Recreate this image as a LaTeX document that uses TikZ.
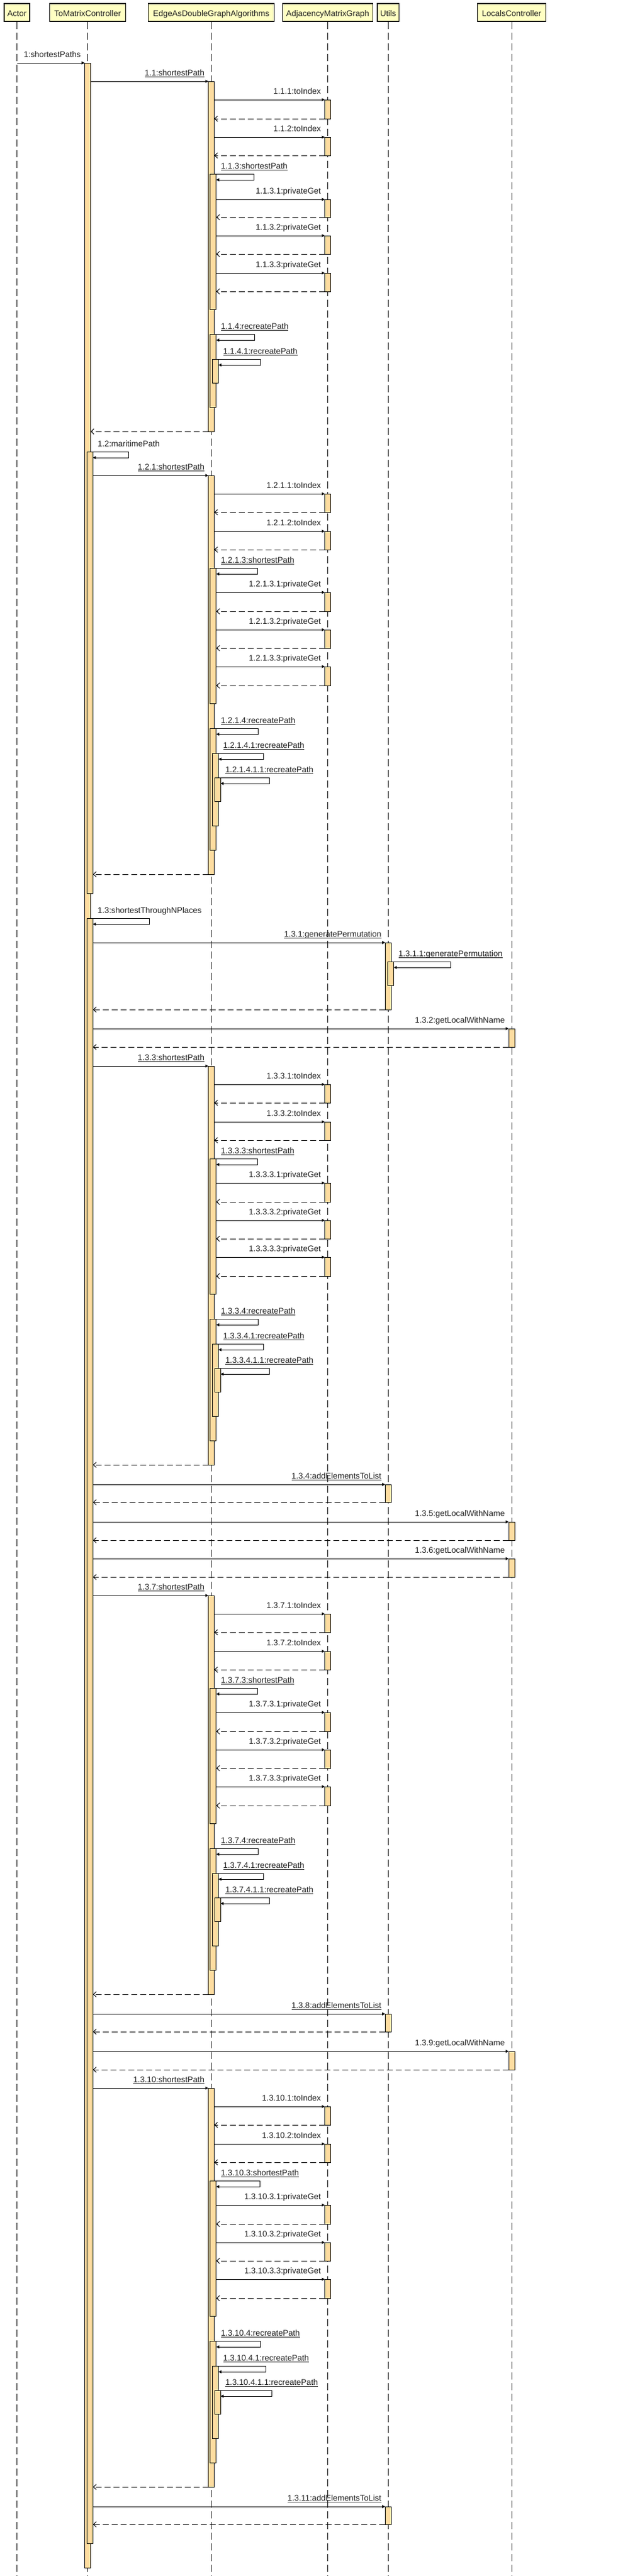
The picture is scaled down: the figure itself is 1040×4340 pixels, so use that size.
\documentclass[tikz,border=0pt]{standalone}
\usepackage{fontspec}
\setmainfont{Liberation Sans}
\usetikzlibrary{arrows.meta,calc}
\definecolor{headfill}{RGB}{255,255,194}
\definecolor{actfill}{RGB}{253,220,160}
\definecolor{txt}{RGB}{30,30,30}

% activation box: name, x centre, y top, y bottom
\newcommand\seqact[4]{\pgfmathsetmacro\seqh{(#4)-(#3)}\node[act, minimum height=\seqh pt] (#1) at (#2,#3) {};}
% call: source act, target act, label name, text, underline, return
\newcommand\seqmsg[6]{%
  \draw[call] (#1.east |- #2.north west) -- (#2.north west);
  \node[lbl, anchor=base east] (#3) at ($(#2.north west)+(-6.5,-10)$) {#4};
  \ifnum#5=1 \draw[uline] ($(#3.base west)+(0,2)$) -- ($(#3.base east)+(0,2)$);\fi
  \ifnum#6=1 \draw[ret] (#2.south west) -- (#1.east |- #2.south west);\fi}
% self call: new act, label name, text, underline
\newcommand\seqself[4]{%
  \node[lbl, anchor=base west] (#2) at ($(#1.north east)+(8,-9)$) {#3};
  \ifnum#4=1 \draw[uline] ($(#2.base west)+(0,2)$) -- ($(#2.base east)+(0,2)$);\fi
  \draw[call] (#1.north east) -| ($(#2.base |- #1.north east)+(0,10)$) -- ($(#1.north east)+(0,10)$);}
% shortestPath block: base y, prefix, key, source act
\newcommand\spblock[4]{%
  \seqact{#3e1}{355.5}{#1}{#1+672}
  \seqmsg{#4}{#3e1}{#3m0}{#2:shortestPath}{1}{1}
  \seqact{#3a1}{551.5}{#1+31}{#1+62}
  \seqmsg{#3e1}{#3a1}{#3m1}{#2.1:toIndex}{0}{1}
  \seqact{#3a2}{551.5}{#1+94}{#1+125}
  \seqmsg{#3e1}{#3a2}{#3m2}{#2.2:toIndex}{0}{1}
  \seqact{#3e2}{358.9}{#1+156}{#1+384}
  \seqself{#3e2}{#3m3}{#2.3:shortestPath}{1}
  \seqact{#3a3}{551.5}{#1+197}{#1+229}
  \seqmsg{#3e2}{#3a3}{#3m31}{#2.3.1:privateGet}{0}{1}
  \seqact{#3a4}{551.5}{#1+260}{#1+291}
  \seqmsg{#3e2}{#3a4}{#3m32}{#2.3.2:privateGet}{0}{1}
  \seqact{#3a5}{551.5}{#1+322}{#1+354}
  \seqmsg{#3e2}{#3a5}{#3m33}{#2.3.3:privateGet}{0}{1}
  \seqact{#3e3}{358.9}{#1+426}{#1+631}
  \seqself{#3e3}{#3m4}{#2.4:recreatePath}{1}
  \seqact{#3e4}{362.6}{#1+468}{#1+590}
  \seqself{#3e4}{#3m41}{#2.4.1:recreatePath}{1}
  \seqact{#3e5}{366.3}{#1+509}{#1+549}
  \seqself{#3e5}{#3m411}{#2.4.1.1:recreatePath}{1}}

\begin{document}
\begin{tikzpicture}[x=1pt, y=-1pt,
  font=\fontsize{13.8pt}{16pt}\selectfont,
  head/.style={draw=black, line width=1.2pt, fill=headfill, text=txt, minimum height=30pt, inner sep=0pt, text height=12pt, text depth=0pt},
  act/.style={draw=black, line width=0.9pt, fill=actfill, minimum width=10pt, inner sep=0pt, outer sep=0pt, anchor=north},
  lbl/.style={inner sep=0pt, outer sep=0pt, text=txt},
  uline/.style={draw=txt, line width=0.9pt},
  call/.style={line width=1pt, -{Triangle[length=5pt,width=5pt]}},
  ret/.style={line width=1pt, dash pattern=on 10pt off 5pt, -{Straight Barb[length=5pt,width=9pt]}},
  life/.style={line width=1pt, dash pattern=on 12pt off 6pt}]

\useasboundingbox (0,0) rectangle (1040,4340);
\fill[white] (0,0) rectangle (1040,4340);
\coordinate (bottom) at (0,4340);

% headers
\node[head, minimum width=43pt] (actor) at (28.5,21) {Actor};
\node[head, minimum width=127.7pt] (tmc) at (147.4,21) {ToMatrixController};
\node[head, minimum width=212pt] (ead) at (355.5,21) {EdgeAsDoubleGraphAlgorithms};
\node[head, minimum width=152.5pt] (amg) at (551.5,21) {AdjacencyMatrixGraph};
\node[head, minimum width=36.5pt] (utl) at (653.2,21) {Utils};
\node[head, minimum width=114.5pt] (lcc) at (861,21) {LocalsController};

% lifelines
\foreach \n in {actor,tmc,ead,amg,utl,lcc} \draw[life] (\n.south) -- (\n.south |- bottom);

% 1
\seqact{t1}{147.4}{106}{4326}
\draw[call] (actor.south |- t1.north west) -- (t1.north west);
\node[lbl, anchor=base east] (m1) at ($(t1.north west)+(-6.5,-10)$) {1:shortestPaths};

% 1.1
\seqact{be1}{355.5}{137}{727}
\seqmsg{t1}{be1}{bm0}{1.1:shortestPath}{1}{1}
\seqact{ba1}{551.5}{168}{200}
\seqmsg{be1}{ba1}{bm1}{1.1.1:toIndex}{0}{1}
\seqact{ba2}{551.5}{231}{262}
\seqmsg{be1}{ba2}{bm2}{1.1.2:toIndex}{0}{1}
\seqact{be2}{358.9}{293}{521}
\seqself{be2}{bm3}{1.1.3:shortestPath}{1}
\seqact{ba3}{551.5}{336}{366}
\seqmsg{be2}{ba3}{bm31}{1.1.3.1:privateGet}{0}{1}
\seqact{ba4}{551.5}{397}{428}
\seqmsg{be2}{ba4}{bm32}{1.1.3.2:privateGet}{0}{1}
\seqact{ba5}{551.5}{460}{491}
\seqmsg{be2}{ba5}{bm33}{1.1.3.3:privateGet}{0}{1}
\seqact{be3}{358.9}{563}{686}
\seqself{be3}{bm4}{1.1.4:recreatePath}{1}
\seqact{be4}{362.6}{605}{645}
\seqself{be4}{bm41}{1.1.4.1:recreatePath}{1}

% 1.2
\seqact{t2}{151.4}{761}{1505}
\seqself{t2}{m12}{1.2:maritimePath}{0}
\spblock{801}{1.2.1}{c}{t2}

% 1.3
\seqact{t3}{151.4}{1547}{4285}
\seqself{t3}{m13}{1.3:shortestThroughNPlaces}{0}
\seqact{u1}{653.2}{1588}{1701}
\seqmsg{t3}{u1}{m131}{1.3.1:generatePermutation}{1}{1}
\seqact{u2}{657.7}{1620}{1660}
\seqself{u2}{m1311}{1.3.1.1:generatePermutation}{1}
\seqact{l1}{861}{1733}{1764}
\seqmsg{t3}{l1}{m132}{1.3.2:getLocalWithName}{0}{1}
\spblock{1796}{1.3.3}{d}{t3}
\seqact{u3}{653.2}{2501}{2531}
\seqmsg{t3}{u3}{m134}{1.3.4:addElementsToList}{1}{1}
\seqact{l2}{861}{2564}{2595}
\seqmsg{t3}{l2}{m135}{1.3.5:getLocalWithName}{0}{1}
\seqact{l3}{861}{2626}{2657}
\seqmsg{t3}{l3}{m136}{1.3.6:getLocalWithName}{0}{1}
\spblock{2688}{1.3.7}{f}{t3}
\seqact{u4}{653.2}{3393}{3423}
\seqmsg{t3}{u4}{m138}{1.3.8:addElementsToList}{1}{1}
\seqact{l4}{861}{3456}{3487}
\seqmsg{t3}{l4}{m139}{1.3.9:getLocalWithName}{0}{1}
\spblock{3518}{1.3.10}{g}{t3}
\seqact{u5}{653.2}{4223}{4253}
\seqmsg{t3}{u5}{m1311b}{1.3.11:addElementsToList}{1}{1}

\end{tikzpicture}
\end{document}
